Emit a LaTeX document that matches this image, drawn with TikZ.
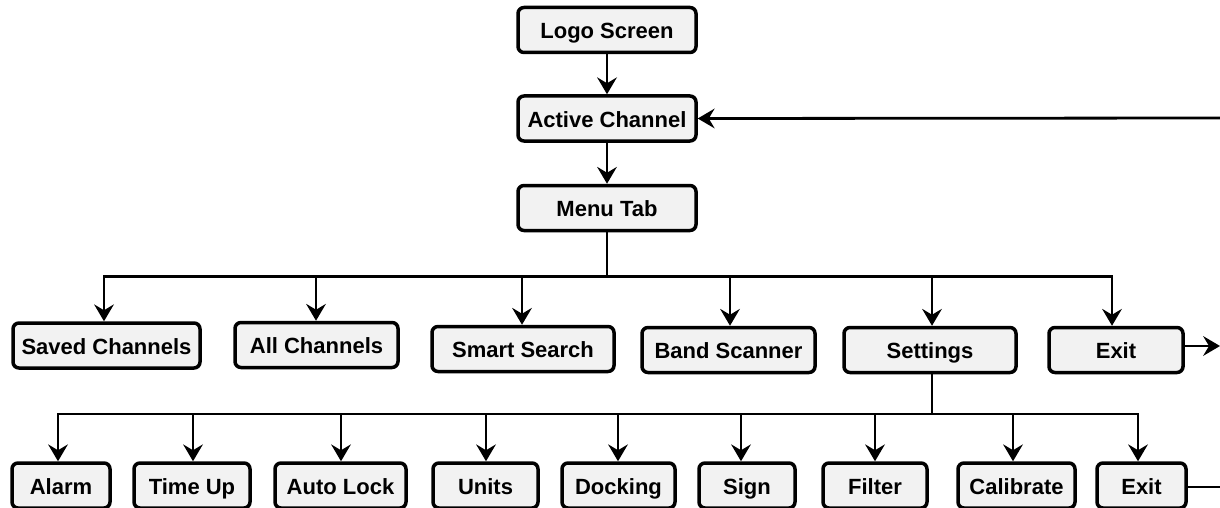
\documentclass[tikz,border=0pt]{standalone}
\usepackage{fontspec}
\setmainfont{Liberation Sans}
\usetikzlibrary{arrows.meta}
\definecolor{boxfill}{HTML}{F2F2F2}
\tikzset{
  menubox/.style={draw=black, fill=boxfill, line width=3.5pt, rounded corners=6pt,
    inner sep=0pt, minimum height=45pt, text height=21pt, text depth=3.5pt,
    font=\fontsize{22}{24}\selectfont\bfseries},
  conn/.style={line width=2.8pt, -{Stealth[length=17pt,width=20pt,inset=6pt,line width=0pt]}},
  plain/.style={line width=2.8pt}
}
\begin{document}
\begin{tikzpicture}[x=1pt,y=-1pt]
\useasboundingbox (0,0) rectangle (1220,508);
\clip (0,0) rectangle (1220,508);
% top column
\node[menubox, minimum width=178pt] (logo) at (607,30) {Logo Screen};
\node[menubox, minimum width=178pt] (active) at (607,118.5) {Active Channel};
\node[menubox, minimum width=178pt] (menu) at (607,208) {Menu Tab};
% row 2
\node[menubox, minimum width=187pt] (saved) at (106.5,345.5) {Saved Channels};
\node[menubox, minimum width=163pt] (all) at (316.5,345) {All Channels};
\node[menubox, minimum width=182pt] (smart) at (523,349) {Smart Search};
\node[menubox, minimum width=173pt] (band) at (728.5,350) {Band Scanner};
\node[menubox, minimum width=172pt] (settings) at (930,350) {Settings};
\node[menubox, minimum width=134pt] (exita) at (1116,350) {Exit};
% row 3
\node[menubox, minimum width=98pt] (alarm) at (61,485.5) {Alarm};
\node[menubox, minimum width=116pt] (timeup) at (192,485.5) {Time Up};
\node[menubox, minimum width=131pt] (autolock) at (340.5,485.5) {Auto Lock};
\node[menubox, minimum width=105pt] (units) at (485.5,485.5) {Units};
\node[menubox, minimum width=113pt] (docking) at (618.5,485.5) {Docking};
\node[menubox, minimum width=96pt] (sign) at (747,485.5) {Sign};
\node[menubox, minimum width=104pt] (filter) at (875,485.5) {Filter};
\node[menubox, minimum width=117pt] (calibrate) at (1016.5,485.5) {Calibrate};
\node[menubox, minimum width=89pt] (exitb) at (1141.5,485.5) {Exit};
% free ends
\coordinate (fbin) at (1222,118);
\coordinate (exitaout) at (1220,346);
\coordinate (exitbout) at (1222,487);
% vertical chain
\draw[conn] (logo) -- (active);
\draw[conn] (active) -- (menu);
\draw[conn] (fbin) -- (active.east);
% menu bus
\foreach \n/\xx in {saved/104, all/316, smart/522, band/730, settings/932, exita/1112}{
  \draw[conn] (menu.south) -- ++(0,44) -| (\xx, 0 |- \n.north);
}
\draw[conn] (exita.east |- exitaout) -- (exitaout);
% settings bus
\foreach \n/\xx in {alarm/58, timeup/193, autolock/341, units/486, docking/618, sign/741, filter/875, calibrate/1013, exitb/1138}{
  \draw[conn] (settings.south -| 932,0) -- (932,414) -| (\xx, 0 |- \n.north);
}
\draw[plain] (exitb.east |- exitbout) -- (exitbout);
\end{tikzpicture}
\end{document}
